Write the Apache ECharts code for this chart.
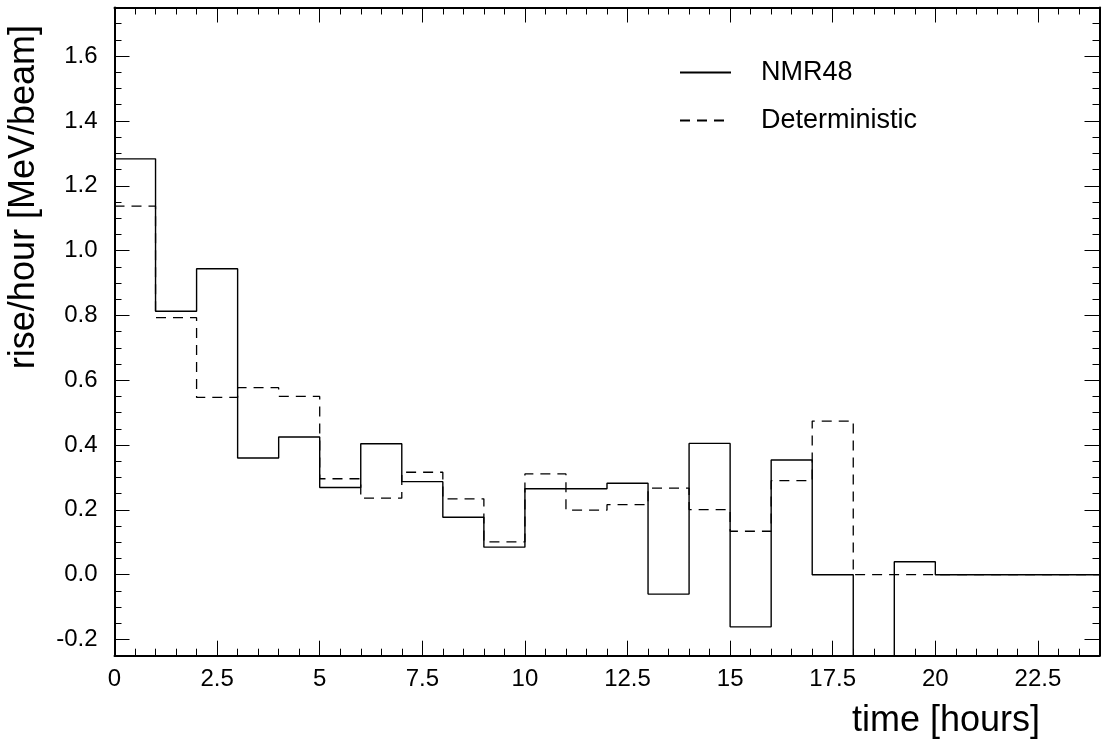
<!DOCTYPE html>
<html>
<head>
<meta charset="utf-8">
<script src="https://cdn.jsdelivr.net/npm/echarts@6/dist/echarts.min.js"></script>
<style>
html,body{margin:0;padding:0;background:#fff;}
#chart{width:1105px;height:745px;}
</style>
</head>
<body>
<div id="chart"></div>
<script>
// Bin edges (hours)
const binEdges = [0,1,2,3,4,5,6,7,8,9,10,11,12,13,14,15,16,17,18,19,20,21,22,23,24];
// Per-hour values (rise/hour [MeV/beam]) for bins [i, i+1]
const nmr48 = [1.283, 0.813, 0.944, 0.360, 0.425, 0.269, 0.404, 0.287, 0.177, 0.085,
               0.265, 0.265, 0.282, -0.060, 0.405, -0.161, 0.354, 0.000, -0.350, 0.040,
               0.000, 0.000, 0.000, 0.000];
const deterministic = [1.137, 0.793, 0.547, 0.577, 0.550, 0.296, 0.236, 0.316, 0.234, 0.101,
                       0.311, 0.199, 0.216, 0.267, 0.201, 0.134, 0.290, 0.474, 0.000, 0.000,
                       0.000, 0.000, 0.000, 0.000];
const yMajorTicks = [-0.2, 0.0, 0.2, 0.4, 0.6, 0.8, 1.0, 1.2, 1.4, 1.6];
const seriesNames = ['NMR48', 'Deterministic'];
const xTitle = 'time [hours]';
const yTitle = 'rise/hour [MeV/beam]';

function histData(vals) {
  return binEdges.map((e, i) => [e, vals[Math.min(i, vals.length - 1)]]);
}

const FONT = '"Liberation Sans", Arial, Helvetica, sans-serif';
const BLACK = '#000';
const YMIN = -0.25, YMAX = 1.75;

const baseLine = { show: true, onZero: false, lineStyle: { color: BLACK, width: 2 } };
const noLine = { show: false, onZero: false };

function xAx(position, interval, tickLen, labels, lineShow) {
  return {
    type: 'value', position: position, min: 0, max: 24, interval: interval,
    axisLine: lineShow ? baseLine : noLine,
    axisTick: { show: true, inside: true, length: tickLen, lineStyle: { color: BLACK, width: 1 } },
    splitLine: { show: false },
    axisLabel: labels ? {
      show: true, fontSize: 24, fontFamily: FONT, color: BLACK, margin: 12,
      formatter: function (v) {
        const k = Math.round(v * 10);
        return (k % 25 === 0) ? String(Math.round(v * 10) / 10) : '';
      }
    } : { show: false }
  };
}

function yAxMinor(position, labels) {
  return {
    type: 'value', position: position, min: YMIN, max: YMAX, interval: 0.05,
    axisLine: baseLine,
    axisTick: { show: true, inside: true, length: 7, lineStyle: { color: BLACK, width: 1 } },
    splitLine: { show: false },
    axisLabel: labels ? {
      show: true, fontSize: 24, fontFamily: FONT, color: BLACK, margin: 17,
      formatter: function (v) {
        const k = Math.round(v * 100);
        return (k % 20 === 0) ? v.toFixed(1) : '';
      }
    } : { show: false }
  };
}

function yAxMajor(position) {
  return {
    type: 'value', position: position, min: YMIN, max: YMAX,
    axisLine: noLine,
    axisTick: { show: true, inside: true, length: 15, customValues: yMajorTicks,
                lineStyle: { color: BLACK, width: 1 } },
    splitLine: { show: false },
    axisLabel: { show: false }
  };
}

const chart = echarts.init(document.getElementById('chart'), null, { renderer: 'canvas' });
chart.setOption({
  animation: false,
  backgroundColor: '#fff',
  grid: { left: 114.5, right: 5.5, top: 7.5, bottom: 89.3, containLabel: false },
  legend: {
    orient: 'vertical', left: 679, top: 59, padding: 0,
    itemWidth: 51, itemHeight: 14, itemGap: 21,
    data: seriesNames,
    itemStyle: { color: 'rgba(0,0,0,0)', borderColor: 'rgba(0,0,0,0)', borderWidth: 0 },
    textStyle: { fontSize: 27, fontFamily: FONT, color: BLACK, lineHeight: 27, padding: [0, 0, 0, 25] },
    selectedMode: false
  },
  xAxis: [
    xAx('bottom', 0.5, 7, true, true),
    xAx('bottom', 2.5, 15, false, false),
    xAx('top', 0.5, 7, false, true),
    xAx('top', 2.5, 15, false, false)
  ],
  yAxis: [
    yAxMinor('left', true),
    yAxMajor('left'),
    yAxMinor('right', false),
    yAxMajor('right')
  ],
  series: [
    {
      name: seriesNames[1], type: 'line', step: 'end', symbol: 'none', clip: true,
      xAxisIndex: 0, yAxisIndex: 0, z: 2,
      lineStyle: { color: BLACK, width: 1.3, type: [10, 7] },
      itemStyle: { color: BLACK },
      data: histData(deterministic)
    },
    {
      name: seriesNames[0], type: 'line', step: 'end', symbol: 'none', clip: true,
      xAxisIndex: 0, yAxisIndex: 0, z: 3,
      lineStyle: { color: BLACK, width: 1.4, type: 'solid' },
      itemStyle: { color: BLACK },
      data: histData(nmr48)
    }
  ],
  graphic: [
    {
      type: 'text', x: 1040, y: 721,
      style: { text: xTitle, font: '36px ' + FONT, fill: BLACK, textAlign: 'right', textVerticalAlign: 'middle' }
    },
    {
      type: 'text', x: 24, y: 25, rotation: Math.PI / 2,
      style: { text: yTitle, font: '36px ' + FONT, fill: BLACK, textAlign: 'right', textVerticalAlign: 'middle' }
    }
  ]
});
</script>
</body>
</html>
